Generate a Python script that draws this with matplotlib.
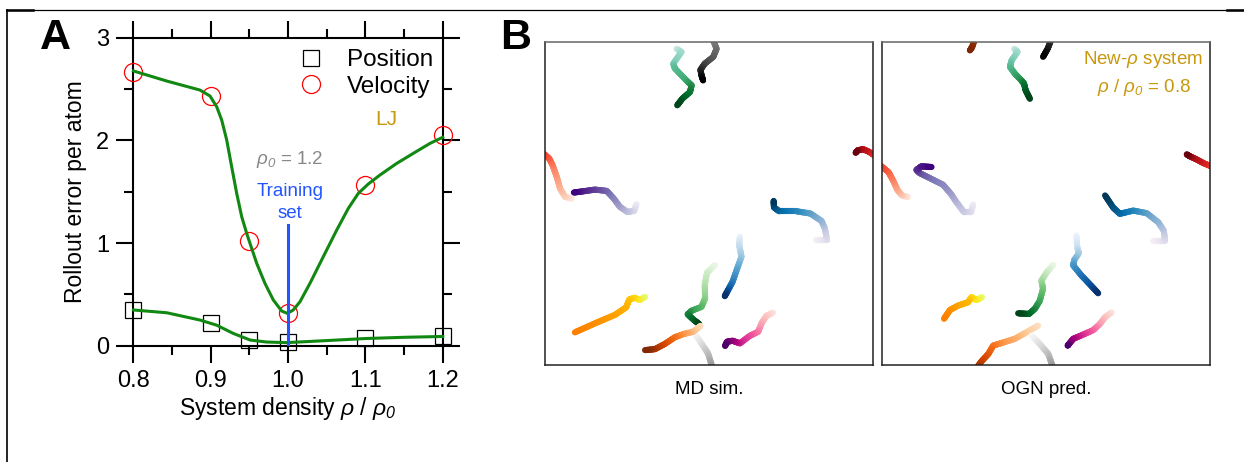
import numpy as np
import matplotlib
matplotlib.use("Agg")
import matplotlib.pyplot as plt
from matplotlib.lines import Line2D
from matplotlib.collections import LineCollection
from matplotlib.ticker import MultipleLocator

plt.rcParams['font.family'] = ['Liberation Sans', 'DejaVu Sans']
plt.rcParams['mathtext.fontset'] = 'custom'
plt.rcParams['mathtext.rm'] = 'Liberation Sans'
plt.rcParams['mathtext.it'] = 'Liberation Sans:italic'
plt.rcParams['mathtext.sf'] = 'Liberation Sans:italic'

# ---------------- Panel A data ----------------
density = [0.8, 0.9, 0.95, 1.0, 1.1, 1.2]
position_err = [0.35, 0.22, 0.06, 0.035, 0.078, 0.095]
velocity_err = [2.67, 2.43, 1.02, 0.315, 1.565, 2.05]

vel_fit_x = [0.800, 0.843, 0.886, 0.899, 0.9076, 0.9141, 0.9206, 0.927, 0.9335, 0.940,
             0.9464, 0.9507, 0.9594, 0.970, 0.9809, 0.9917, 0.999, 1.0067, 1.0154, 1.0283,
             1.0455, 1.0629, 1.0779, 1.0908, 1.1037, 1.1189, 1.1405, 1.162, 1.1836, 1.2]
vel_fit_y = [2.676, 2.578, 2.490, 2.432, 2.328, 2.198, 2.003, 1.743, 1.484, 1.256,
             1.095, 0.997, 0.802, 0.608, 0.445, 0.338, 0.315, 0.348, 0.429, 0.608,
             0.867, 1.127, 1.338, 1.484, 1.575, 1.663, 1.776, 1.874, 1.971, 2.03]
pos_fit_x = [0.800, 0.843, 0.886, 0.9076, 0.929, 0.951, 0.972, 0.998, 1.05, 1.1, 1.15, 1.2]
pos_fit_y = [0.348, 0.321, 0.25, 0.20, 0.12, 0.055, 0.036, 0.03, 0.05, 0.07, 0.082, 0.09]

training_density = 1.0
training_line_top = 1.175

# ---------------- Panel B data (box units 0..100) ----------------
# MD simulation trajectories (points ordered from early/light to late/dark)
md_bugn = [(40.1, 97.9), (41.6, 96.9), (39.1, 93.3), (39.6, 91.8), (43.1, 88.1), (44.7, 86.6),
           (44.2, 84.5), (41.9, 82.5), (40.3, 80.4)]
md_greys_a = [(45.7, 9.6), (47.7, 6.7), (49.7, 3.6), (51.1, -1.0)]
md_greys_b = [(51.1, 101.0), (52.3, 97.9), (51.3, 95.4), (48.7, 93.3), (47.4, 91.4), (47.7, 89.7),
              (48.2, 88.1)]
md_reds_a = [(8.1, 51.5), (6.1, 52.1), (4.6, 54.6), (3.6, 58.2), (2.3, 61.9), (1.3, 63.9), (-0.5, 65.5)]
md_reds_b = [(100.8, 64.6), (98.8, 66.0), (97.0, 66.8), (95.4, 66.5), (94.7, 65.7)]
md_purples = [(27.9, 49.8), (27.2, 47.7), (25.1, 47.4), (22.8, 49.0), (21.0, 51.5), (18.8, 53.9),
              (15.2, 54.3), (11.2, 53.7), (8.8, 53.4)]
md_pubu = [(82.5, 38.7), (86.0, 38.7), (85.3, 42.3), (84.3, 44.6), (80.9, 46.9), (76.6, 47.6),
           (71.4, 47.6), (69.8, 48.8), (69.7, 50.8)]
md_blues = [(59.4, 39.7), (59.2, 37.1), (59.9, 33.5), (58.6, 29.9), (57.2, 25.8), (55.8, 23.2),
            (54.8, 21.3)]
md_greens = [(51.8, 30.9), (49.4, 28.6), (48.7, 24.7), (48.8, 20.6), (47.7, 18.0), (44.7, 16.8),
             (43.5, 15.7), (45.4, 13.9), (47.0, 12.7)]
md_oranges = [(47.4, 12.1), (45.2, 10.3), (42.3, 9.6), (39.6, 8.6), (36.5, 6.5), (33.5, 4.9),
              (30.5, 4.6)]
md_wistia = [(30.5, 21.1), (28.9, 20.1), (27.4, 20.8), (25.7, 20.3), (24.7, 17.8), (21.3, 15.5),
             (15.7, 13.1), (9.1, 10.1)]
md_rdpu = [(69.5, 16.2), (67.5, 15.2), (66.0, 12.9), (65.0, 10.3), (62.4, 9.0), (59.4, 6.7),
           (57.2, 7.5), (55.5, 7.2), (54.9, 5.9)]

# OGN predicted trajectories
ogn_oranges_a = [(47.6, 12.2), (44.0, 10.1), (40.5, 8.1), (36.4, 6.8), (33.9, 6.0), (32.4, 3.4),
                 (30.3, 1.1), (28.8, -1.0)]
ogn_oranges_b = [(28.3, 101.0), (27.5, 98.5), (26.8, 97.4)]
ogn_greys_a = [(45.6, 9.1), (48.1, 6.5), (50.7, 3.4), (52.2, -1.0)]
ogn_greys_b = [(51.7, 101.0), (50.5, 97.9), (49.1, 95.4)]
ogn_bugn = [(40.3, 97.9), (41.3, 96.9), (39.5, 94.3), (39.0, 92.3), (40.5, 90.2), (42.5, 88.1),
            (43.3, 87.1), (43.8, 85.0), (45.1, 82.4)]
ogn_reds_a = [(7.9, 52.0), (6.1, 52.5), (4.7, 54.2), (3.4, 57.1), (2.0, 59.7), (-0.5, 61.8)]
ogn_reds_b = [(100.8, 61.3), (98.0, 62.5), (95.6, 63.8), (93.9, 64.6), (92.9, 65.2)]
ogn_purples = [(27.8, 49.7), (27.1, 47.3), (25.0, 47.3), (22.7, 50.4), (21.0, 53.0), (18.6, 55.8),
               (14.5, 57.9), (11.5, 59.4), (10.5, 60.4), (12.0, 61.5), (15.1, 61.3)]
ogn_pubu = [(82.7, 38.5), (86.3, 38.5), (85.9, 41.6), (84.2, 44.2), (80.7, 47.0), (76.6, 47.8),
            (72.5, 46.8), (70.5, 48.7), (68.0, 52.5)]
ogn_blues = [(59.3, 40.1), (59.5, 36.5), (60.0, 34.6), (58.6, 32.5), (58.3, 30.8), (60.8, 27.7),
             (63.7, 24.6), (65.9, 22.2)]
ogn_greens = [(52.2, 31.0), (50.2, 28.7), (48.6, 26.1), (49.1, 23.6), (48.1, 19.9), (46.6, 17.4),
              (44.8, 15.8), (41.5, 16.0)]
ogn_wistia = [(30.5, 21.0), (28.8, 20.1), (27.3, 21.0), (26.2, 19.4), (23.2, 18.4), (20.7, 17.0),
              (18.9, 14.3)]
ogn_rdpu = [(70.0, 16.3), (68.0, 14.8), (66.4, 12.7), (64.4, 10.8), (61.3, 9.4), (58.3, 8.1),
            (57.0, 6.5), (56.6, 6.0)]

# styles: (trajectory, colormap, start, end)
md_styles = [
    (md_bugn, 'BuGn', 0.25, 1.0), (md_greys_a, 'Greys', 0.05, 0.5), (md_greys_b, 'Greys', 0.55, 1.0),
    (md_reds_a, 'Reds', 0.08, 0.6), (md_reds_b, 'Reds', 0.6, 1.0), (md_purples, 'Purples', 0.12, 1.0),
    (md_pubu, 'PuBu', 0.05, 1.0), (md_blues, 'Blues', 0.05, 1.0), (md_greens, 'Greens', 0.08, 1.0),
    (md_oranges, 'Oranges', 0.15, 1.0), (md_wistia, 'Wistia', 0.0, 1.0), (md_rdpu, 'RdPu', 0.1, 1.0),
]
ogn_styles = [
    (ogn_oranges_a, 'Oranges', 0.15, 0.88), (ogn_oranges_b, 'Oranges', 0.9, 1.0),
    (ogn_greys_a, 'Greys', 0.05, 0.5), (ogn_greys_b, 'Greys', 0.8, 1.0),
    (ogn_bugn, 'BuGn', 0.25, 1.0), (ogn_reds_a, 'Reds', 0.08, 0.6), (ogn_reds_b, 'Reds', 0.6, 1.0),
    (ogn_purples, 'Purples', 0.12, 1.0), (ogn_pubu, 'PuBu', 0.05, 1.0), (ogn_blues, 'Blues', 0.05, 1.0),
    (ogn_greens, 'Greens', 0.08, 1.0), (ogn_wistia, 'Wistia', 0.0, 1.0), (ogn_rdpu, 'RdPu', 0.1, 1.0),
]

GOLD = '#c8980f'
GREEN = '#118811'
BLUE = '#2255ff'

fig = plt.figure(figsize=(12.44, 4.62), dpi=100)

# ---------------- Panel A ----------------
ax = fig.add_axes([0.1073, 0.2517, 0.2486, 0.6667])
ax.set_xlim(0.8, 1.2)
ax.set_ylim(0, 3)
for s in ax.spines.values():
    s.set_linewidth(1.5)
ax.xaxis.set_major_locator(MultipleLocator(0.1))
ax.xaxis.set_minor_locator(MultipleLocator(0.05))
ax.yaxis.set_major_locator(MultipleLocator(1))
ax.yaxis.set_minor_locator(MultipleLocator(0.5))
ax.tick_params(which='both', direction='out', top=True, right=True, width=1.5, labelsize=17)
ax.tick_params(which='major', length=12.3, pad=5)
ax.tick_params(which='minor', length=6.2)
ax.set_xticks([0.8, 0.9, 1.0, 1.1, 1.2])
ax.set_xticklabels(['0.8', '0.9', '1.0', '1.1', '1.2'])
ax.set_ylabel('Rollout error per atom', fontsize=16.5, labelpad=7)
ax.set_xlabel(r'System density $\rho$ / $\rho_{\mathsf{0}}$', fontsize=16.5, labelpad=2)

ax.plot(density, position_err, ls='none', marker='s', ms=11.5, mfc='none', mec='black', mew=0.9,
        clip_on=False, zorder=3)
ax.plot(density, velocity_err, ls='none', marker='o', ms=13, mfc='none', mec='red', mew=0.9,
        clip_on=False, zorder=3)
ax.plot(vel_fit_x, vel_fit_y, color=GREEN, lw=2.2, zorder=4, clip_on=False)
ax.plot(pos_fit_x, pos_fit_y, color=GREEN, lw=2.2, zorder=4, clip_on=False)
ax.plot([training_density, training_density], [0, training_line_top], color=BLUE, lw=2.2, zorder=5)

ax.text(1.0024, 1.81, r'$\rho_{\mathsf{0}}$ = 1.2', color='#888888', fontsize=13.5, ha='center', va='center')
ax.text(1.0024, 1.505, 'Training', color=BLUE, fontsize=13.5, ha='center', va='center')
ax.text(1.0024, 1.29, 'set', color=BLUE, fontsize=13.5, ha='center', va='center')
ax.text(1.1267, 2.2, 'LJ', color=GOLD, fontsize=15, ha='center', va='center')

handles = [Line2D([], [], ls='none', marker='s', ms=11.5, mfc='none', mec='black', mew=0.9),
           Line2D([], [], ls='none', marker='o', ms=13, mfc='none', mec='red', mew=0.9)]
ax.legend(handles, ['Position', 'Velocity'], loc='upper right', bbox_to_anchor=(0.968, 0.963),
          frameon=False, fontsize=17.5, handlelength=1.0, handletextpad=0.95, labelspacing=0.2,
          borderpad=0.0, borderaxespad=0.0)

# ---------------- Panel B ----------------
def draw_traj(axb, pts, cmap_name, c0, c1):
    pts = np.asarray(pts, dtype=float)
    segs, vals = [], []
    n = len(pts) - 1
    sub = 12
    for i in range(n):
        p, q = pts[i], pts[i + 1]
        for k in range(sub):
            t0, t1 = k / sub, (k + 1) / sub
            segs.append([p + (q - p) * t0, p + (q - p) * t1])
            vals.append(c0 + (c1 - c0) * (i + (k + 0.5) / sub) / n)
    cmap = plt.get_cmap(cmap_name)
    lc = LineCollection(segs, colors=cmap(np.array(vals)), linewidths=4.4, capstyle='round',
                        joinstyle='round')
    axb.add_collection(lc)

boxes = [([0.4381, 0.2100, 0.2637, 0.6991], md_styles, 'MD sim.'),
         ([0.7090, 0.2100, 0.2637, 0.6991], ogn_styles, 'OGN pred.')]
bax = []
for rect, styles, caption in boxes:
    axb = fig.add_axes(rect)
    axb.set_xlim(0, 100)
    axb.set_ylim(0, 100)
    axb.set_xticks([])
    axb.set_yticks([])
    for s in axb.spines.values():
        s.set_linewidth(1.1)
        s.set_color('#222222')
    axb.spines['top'].set_color('#666666')
    for pts, cm, c0, c1 in styles:
        draw_traj(axb, pts, cm, c0, c1)
    axb.text(0.5, -0.075, caption, transform=axb.transAxes, ha='center', va='center', fontsize=13.5)
    bax.append(axb)

bax[1].text(0.795, 0.945, r'New-$\rho$ system', transform=bax[1].transAxes, ha='center', va='center',
            color=GOLD, fontsize=13.5)
bax[1].text(0.80, 0.86, r'$\rho$ / $\rho_{\mathsf{0}}$ = 0.8', transform=bax[1].transAxes, ha='center',
            va='center', color=GOLD, fontsize=13.5)

# panel letters
fig.text(0.0442, 0.918, 'A', fontsize=31, fontweight='bold', ha='center', va='center')
fig.text(0.4148, 0.918, 'B', fontsize=31, fontweight='bold', ha='center', va='center')

# outer frame lines
fy = 1 - 10 / 462
fig.add_artist(Line2D([7.5 / 1244, 1.0], [fy, fy], transform=fig.transFigure, color='black', lw=0.9))
fig.add_artist(Line2D([7.5 / 1244, 7.5 / 1244], [0, fy], transform=fig.transFigure, color='black', lw=1.2))
fig.add_artist(Line2D([7.5 / 1244, 33 / 1244], [fy, fy], transform=fig.transFigure, color='black', lw=1.8))
fig.add_artist(Line2D([1227 / 1244, 1.0], [fy, fy], transform=fig.transFigure, color='black', lw=1.8))

fig.savefig('out.png', dpi=100)
